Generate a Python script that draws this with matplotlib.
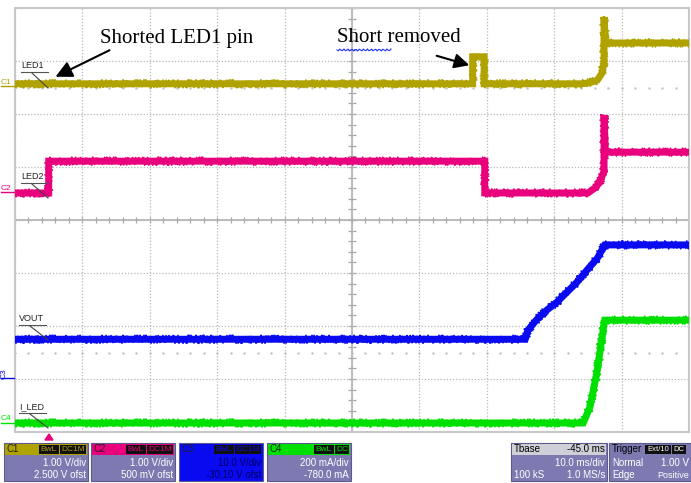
import matplotlib
matplotlib.use("Agg")
import matplotlib.pyplot as plt
import numpy as np
from matplotlib.patches import Rectangle, Polygon

# screen: 10 ms/div, delay -45 ms -> -5 ms .. 95 ms ; 8 vertical divisions
t_led1 = [-5, 62.9, 62.9, 64.6, 64.6, 79.0, 80.3, 81.4, 82.1, 82.4, 82.4, 82.6, 95]
v_led1 = [0.07, 0.07, 0.58, 0.58, 0.07, 0.07, 0.09, 0.14, 0.27, 0.48, 1.33, 0.84, 0.84]
t_led2 = [-5, 0, 0, 64.7, 64.7, 80.0, 81.0, 81.7, 82.2, 82.4, 82.4, 82.6, 95]
v_led2 = [0.01, 0.01, 0.61, 0.61, 0.01, 0.01, 0.10, 0.20, 0.36, 0.42, 1.48, 0.78, 0.78]
t_vout = [-5, 70.7, 71.1, 72.6, 73.9, 75.4, 76.9, 78.4, 79.9, 81.4, 82.5, 95]
v_vout = [7.6, 7.6, 9.3, 11.6, 13.1, 14.6, 16.5, 18.4, 20.7, 22.9, 25.4, 25.4]
t_iled = [-5, 79.3, 80.3, 81.4, 82.1, 82.5, 95]
i_iled = [14, 14, 74, 214, 338, 402, 402]

ch_names = ["C1", "C2", "C3", "C4"]
ch_labels = ["LED1", "LED2", "VOUT", "I_LED"]
ch_colors = ["#b0a300", "#e8007c", "#0a0af0", "#00e000"]
ch_scale = [1.0, 1.0, 10.0, 200.0]
ch_offset = [2.5, 0.5, -30.1, -780.0]
ch_line1 = ["1.00 V/div", "1.00 V/div", "10.0 V/div", "200 mA/div"]
ch_line2 = ["2.500 V ofst", "500 mV ofst", "-30.10 V ofst", "-780.0 mA"]
ch_coupling = [["BwL", "DC1M"], ["BwL", "DC1M"], ["BwL", "DC1M"], ["BwL", "DC"]]

traces = [(t_led1, v_led1), (t_led2, v_led2), (t_vout, v_vout), (t_iled, i_iled)]

W, H = 691, 483
fig = plt.figure(figsize=(W / 100, H / 100), dpi=100)
fig.patch.set_facecolor("white")

L, R, T, B = 15, 689, 8, 432
ax = fig.add_axes([L / W, 1 - B / H, (R - L) / W, (B - T) / H])
ax.set_xlim(-5, 95)
ax.set_ylim(-4, 4)
ax.set_xticks(np.arange(-5, 96, 10))
ax.set_yticks(np.arange(-4, 5, 1))
ax.tick_params(length=0, labelbottom=False, labelleft=False)
ax.grid(True, color="#b8b8b8", linestyle=(0, (1, 1.5)), linewidth=0.9)
for s in ax.spines.values():
    s.set_color("#c8c8c8")
    s.set_linewidth(1.5)

# centre cross with minor ticks
ax.axhline(0, color="#b0b0b0", lw=1.2, zorder=1)
ax.axvline(45, color="#b0b0b0", lw=1.2, zorder=1)
mx = np.arange(-5, 95.1, 2)
my = np.arange(-4, 4.01, 0.2)
ax.vlines(mx, -0.05, 0.05, color="#a8a8a8", lw=0.9, zorder=1)
ax.hlines(my, 44.4, 45.6, color="#a8a8a8", lw=0.9, zorder=1)
for yy in (-2.5, 2.5):
    ax.plot(mx, np.full_like(mx, yy), ls="", marker="s", ms=0.7, color="#c4c4c4", zorder=1)

for (tt, vv), c, sc, of in zip(traces, ch_colors, ch_scale, ch_offset):
    y = (np.array(vv) + of) / sc
    ax.plot(tt, y, color=c, lw=5, solid_joinstyle="miter", zorder=3)
    ln, = ax.plot(tt, y, color=c, lw=1.2, zorder=3)
    ln.set_sketch_params(scale=4, length=1.5, randomness=3)

# overlay in pixel coordinates for labels and status bar
ov = fig.add_axes([0, 0, 1, 1], facecolor="none")
ov.set_xlim(0, W)
ov.set_ylim(H, 0)
ov.axis("off")

# channel ground markers and trace labels
gnd_y = [84, 190, 376, 421]
lab_pos = [(21, 70, 48, 88), (21, 181, 48, 198), (19, 323, 48, 340), (19, 411, 48, 428)]
for name, c, gy in zip(ch_names, ch_colors, gnd_y):
    rot = 90 if name == "C3" else 0
    ov.text(1, gy - 2, name, color=c, fontsize=6, ha="left", va="center",
            rotation=rot, family="Liberation Sans")
    ov.plot([1, 14], [gy + 2, gy + 2], color=c, lw=1)
for lab, (x0, y0, x1, y1) in zip(ch_labels, lab_pos):
    ov.text(x0, y0, lab, color="#222222", fontsize=6.5, ha="left", va="bottom",
            family="Liberation Sans")
    ov.plot([x0, x0 + 27], [y0 + 2, y0 + 2], color="#555555", lw=0.8)
    ov.plot([x0 + 11, x1], [y0 + 3, y1], color="#444444", lw=0.8)

# annotations
ov.text(100, 38, "Shorted LED1 pin", fontsize=15, family="Liberation Serif",
        ha="left", va="center", color="black")
ov.annotate("", xy=(53, 78), xytext=(112, 49),
            arrowprops=dict(arrowstyle="-|>,head_length=1.0,head_width=0.5",
                            color="black", lw=1.5))
ov.text(337, 38, "Short removed", fontsize=15, family="Liberation Serif",
        ha="left", va="center", color="black")
wx = np.linspace(337, 391, 40)
ov.plot(wx, 50 + 1.0 * np.sin((wx - 337) * 1.6), color="#2030ff", lw=0.8)
ov.annotate("", xy=(472, 66), xytext=(434, 55),
            arrowprops=dict(arrowstyle="-|>,head_length=0.9,head_width=0.45",
                            color="black", lw=1.5))

# trigger marker
ov.add_patch(Polygon([[45, 440], [53, 440], [49, 434]], closed=True, color="#e8007c"))

# status bar
body = "#7c7ab0"
bx = [4, 91, 179, 267]
for x0, name, c, l1, l2, cp in zip(bx, ch_names, ch_colors, ch_line1, ch_line2, ch_coupling):
    bw = 84
    fc = c if name == "C3" else body
    txtc = "#000060" if name == "C3" else "white"
    ov.add_patch(Rectangle((x0, 443), bw, 38, facecolor=fc, edgecolor="#5c5a8c", lw=0.8))
    ov.add_patch(Rectangle((x0 + 1, 444), bw - 2, 11, facecolor=c, edgecolor="none"))
    ov.text(x0 + 3, 449.5, name, fontsize=7, color="#202020", va="center", family="Liberation Sans")
    xr = x0 + bw - 2
    for word in reversed(cp):
        w = 6 * len(word) + 2 if word != "BwL" else 20
        ov.add_patch(Rectangle((xr - w, 445), w, 9, facecolor="#101010", edgecolor="none"))
        ov.text(xr - w / 2, 449.5, word, fontsize=6, color=c, ha="center", va="center",
                family="Liberation Sans")
        xr -= w + 1
    ov.text(x0 + bw - 2, 463, l1, fontsize=7, color=txtc, ha="right", va="center",
            family="Liberation Sans")
    ov.text(x0 + bw - 2, 475, l2, fontsize=7, color=txtc, ha="right", va="center",
            family="Liberation Sans")

# timebase box
ov.add_patch(Rectangle((511, 443), 96, 38, facecolor=body, edgecolor="#5c5a8c", lw=0.8))
ov.add_patch(Rectangle((512, 444), 94, 11, facecolor="#cfcfd8", edgecolor="none"))
ov.text(514, 449.5, "Tbase", fontsize=7, color="black", va="center", family="Liberation Sans")
ov.text(605, 449.5, "-45.0 ms", fontsize=7, color="black", ha="right", va="center",
        family="Liberation Sans")
ov.text(605, 463, "10.0 ms/div", fontsize=7, color="white", ha="right", va="center",
        family="Liberation Sans")
ov.text(514, 475, "100 kS", fontsize=7, color="white", va="center", family="Liberation Sans")
ov.text(605, 475, "1.0 MS/s", fontsize=7, color="white", ha="right", va="center",
        family="Liberation Sans")

# trigger box
ov.add_patch(Rectangle((609, 443), 90, 38, facecolor=body, edgecolor="#5c5a8c", lw=0.8))
ov.text(612, 449.5, "Trigger", fontsize=7, color="black", va="center", family="Liberation Sans")
ov.add_patch(Rectangle((645, 445), 26, 9, facecolor="#101010", edgecolor="none"))
ov.text(658, 449.5, "Ext/10", fontsize=5.5, color="white", ha="center", va="center",
        family="Liberation Sans")
ov.add_patch(Rectangle((672, 445), 14, 9, facecolor="#101010", edgecolor="none"))
ov.text(679, 449.5, "DC", fontsize=5.5, color="white", ha="center", va="center",
        family="Liberation Sans")
ov.text(612, 463, "Normal", fontsize=7, color="white", va="center", family="Liberation Sans")
ov.text(689, 463, "1.00 V", fontsize=7, color="white", ha="right", va="center",
        family="Liberation Sans")
ov.text(612, 475, "Edge", fontsize=7, color="white", va="center", family="Liberation Sans")
ov.text(689, 475, "Positive", fontsize=6.5, color="white", ha="right", va="center",
        family="Liberation Sans")

fig.savefig("out.png", dpi=100)
